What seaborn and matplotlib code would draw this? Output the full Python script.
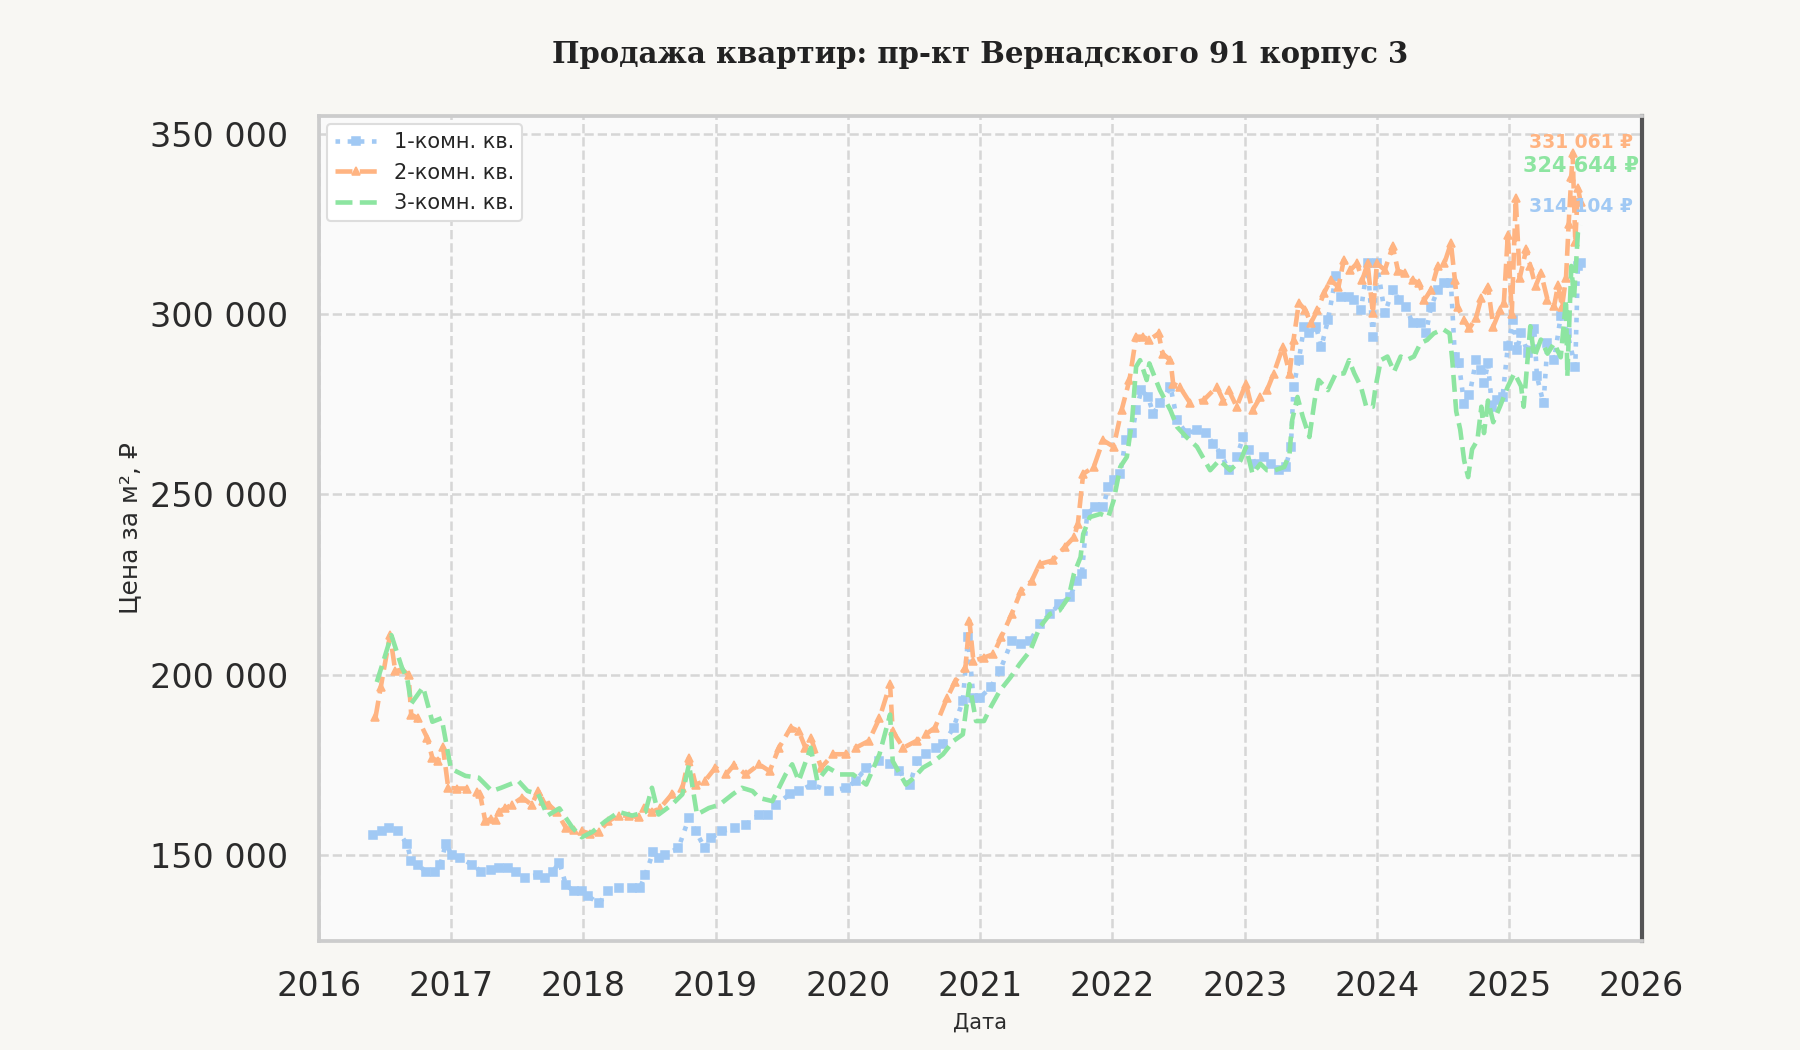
import pandas as pd
import matplotlib
matplotlib.use('Agg')
import matplotlib.pyplot as plt
import matplotlib.dates as mdates
from matplotlib.ticker import FuncFormatter, MultipleLocator
import seaborn as sns

# Даты как десятичные годы, цены за м² (тыс. руб.)
years_1k = [2016.41, 2016.48, 2016.53, 2016.60, 2016.67, 2016.70, 2016.75, 2016.81, 2016.88, 2016.92,
            2016.96, 2017.01, 2017.07, 2017.16, 2017.23, 2017.30, 2017.36, 2017.43, 2017.49, 2017.56,
            2017.66, 2017.71, 2017.77, 2017.82, 2017.87, 2017.93, 2017.99, 2018.04, 2018.12, 2018.19,
            2018.27, 2018.37, 2018.43, 2018.47, 2018.53, 2018.57, 2018.62, 2018.72, 2018.80, 2018.85,
            2018.92, 2018.97, 2019.05, 2019.15, 2019.23, 2019.33, 2019.40, 2019.46, 2019.56, 2019.63,
            2019.73, 2019.86, 2019.99, 2020.06, 2020.14, 2020.24, 2020.32, 2020.39, 2020.47, 2020.52,
            2020.59, 2020.67, 2020.72, 2020.80, 2020.87, 2020.91, 2020.95, 2021.00, 2021.08, 2021.15,
            2021.24, 2021.31, 2021.38, 2021.45, 2021.53, 2021.60, 2021.68, 2021.73, 2021.77, 2021.81,
            2021.87, 2021.93, 2021.97, 2022.01, 2022.06, 2022.10, 2022.15, 2022.18, 2022.22, 2022.27,
            2022.31, 2022.36, 2022.44, 2022.49, 2022.56, 2022.64, 2022.71, 2022.76, 2022.82, 2022.88,
            2022.94, 2022.99, 2023.03, 2023.08, 2023.15, 2023.20, 2023.26, 2023.31, 2023.35, 2023.37,
            2023.41, 2023.45, 2023.49, 2023.54, 2023.58, 2023.63, 2023.69, 2023.73, 2023.79, 2023.83,
            2023.88, 2023.93, 2023.97, 2024.00, 2024.06, 2024.12, 2024.17, 2024.22, 2024.27, 2024.33,
            2024.37, 2024.41, 2024.46, 2024.51, 2024.56, 2024.59, 2024.62, 2024.66, 2024.70, 2024.75,
            2024.79, 2024.81, 2024.84, 2024.87, 2024.91, 2024.95, 2024.99, 2025.03, 2025.06, 2025.09,
            2025.14, 2025.19, 2025.21, 2025.26, 2025.29, 2025.34, 2025.39, 2025.44, 2025.50, 2025.52,
            2025.54]
price_1k = [155.7, 156.7, 157.6, 156.7, 153.0, 148.3, 147.4, 145.5, 145.5, 147.4,
            153.0, 150.2, 149.3, 147.4, 145.5, 146.0, 146.4, 146.4, 145.5, 143.7,
            144.6, 143.7, 145.5, 148.0, 141.8, 140.0, 140.0, 138.6, 136.7, 140.0,
            141.0, 141.0, 141.0, 144.6, 151.0, 149.3, 150.2, 152.0, 160.4, 156.7,
            152.0, 154.8, 156.7, 157.6, 158.5, 161.3, 161.3, 164.0, 166.9, 167.8,
            169.6, 167.8, 168.7, 170.6, 174.3, 176.1, 175.2, 173.3, 169.6, 176.0,
            178.0, 179.8, 180.7, 185.4, 192.8, 210.4, 193.7, 193.7, 196.5, 201.1,
            209.4, 208.5, 209.4, 214.0, 216.9, 219.6, 221.5, 226.1, 228.0, 244.6,
            246.5, 246.5, 252.0, 253.9, 255.7, 265.0, 266.9, 273.3, 278.9, 277.0,
            272.4, 275.2, 279.8, 270.6, 266.9, 267.8, 266.9, 264.1, 261.3, 256.7,
            260.4, 265.9, 262.2, 258.5, 260.4, 258.5, 256.7, 257.6, 263.1, 279.8,
            287.2, 296.5, 294.6, 296.5, 290.9, 298.3, 310.4, 304.8, 304.8, 303.9,
            301.1, 314.0, 293.7, 314.0, 300.2, 306.7, 303.9, 302.0, 297.4, 297.4,
            294.6, 302.0, 306.7, 308.5, 308.5, 288.2, 286.3, 275.0, 277.5, 287.2,
            284.4, 280.8, 286.4, 274.3, 276.1, 277.0, 291.0, 298.4, 290.1, 294.7,
            289.2, 295.7, 282.7, 275.2, 291.9, 287.3, 299.4, 294.7, 285.4, 313.3,
            314.104]

years_2k = [2016.43, 2016.47, 2016.54, 2016.58, 2016.63, 2016.68, 2016.70, 2016.75, 2016.82, 2016.86,
            2016.90, 2016.94, 2016.98, 2017.05, 2017.12, 2017.20, 2017.22, 2017.26, 2017.30, 2017.34,
            2017.36, 2017.41, 2017.46, 2017.54, 2017.61, 2017.66, 2017.70, 2017.74, 2017.80, 2017.87,
            2017.93, 2017.99, 2018.05, 2018.12, 2018.19, 2018.27, 2018.35, 2018.42, 2018.46, 2018.52,
            2018.58, 2018.67, 2018.75, 2018.80, 2018.85, 2018.92, 2019.00, 2019.08, 2019.14, 2019.23,
            2019.33, 2019.41, 2019.48, 2019.57, 2019.63, 2019.68, 2019.72, 2019.80, 2019.89, 2019.99,
            2020.06, 2020.16, 2020.24, 2020.32, 2020.34, 2020.42, 2020.52, 2020.59, 2020.66, 2020.75,
            2020.81, 2020.89, 2020.92, 2020.95, 2021.03, 2021.10, 2021.16, 2021.24, 2021.31, 2021.39,
            2021.45, 2021.55, 2021.64, 2021.71, 2021.74, 2021.78, 2021.86, 2021.93, 2022.01, 2022.07,
            2022.13, 2022.18, 2022.23, 2022.28, 2022.35, 2022.38, 2022.44, 2022.46, 2022.51, 2022.59,
            2022.69, 2022.79, 2022.84, 2022.88, 2022.94, 2023.01, 2023.06, 2023.12, 2023.17, 2023.22,
            2023.29, 2023.34, 2023.37, 2023.41, 2023.46, 2023.50, 2023.55, 2023.60, 2023.65, 2023.71,
            2023.75, 2023.80, 2023.85, 2023.89, 2023.93, 2023.97, 2024.00, 2024.06, 2024.12, 2024.16,
            2024.21, 2024.27, 2024.32, 2024.36, 2024.41, 2024.46, 2024.51, 2024.56, 2024.59, 2024.61,
            2024.66, 2024.70, 2024.75, 2024.79, 2024.84, 2024.88, 2024.93, 2024.96, 2024.99, 2025.02,
            2025.05, 2025.08, 2025.13, 2025.16, 2025.20, 2025.24, 2025.29, 2025.34, 2025.37, 2025.40,
            2025.43, 2025.45, 2025.47, 2025.48, 2025.50, 2025.52, 2025.54]
price_2k = [188.2, 196.6, 211.0, 201.0, 201.5, 200.0, 189.0, 188.0, 182.6, 177.0,
            176.0, 180.0, 168.7, 168.5, 168.5, 167.5, 167.0, 159.5, 160.0, 159.7,
            162.0, 163.0, 164.0, 166.0, 164.0, 167.8, 165.0, 164.0, 162.0, 157.6,
            157.0, 156.7, 156.0, 156.5, 159.5, 161.0, 161.0, 160.5, 163.0, 162.0,
            163.0, 166.9, 168.7, 177.0, 169.6, 170.6, 174.3, 172.4, 175.0, 172.4,
            175.2, 173.3, 179.8, 185.4, 184.4, 179.8, 182.6, 174.3, 178.0, 178.0,
            179.8, 181.7, 188.0, 197.4, 184.4, 179.8, 181.7, 183.5, 185.4, 193.5,
            198.0, 202.0, 215.0, 203.9, 204.8, 205.7, 210.4, 216.9, 223.3, 226.0,
            230.7, 231.7, 235.4, 238.1, 241.9, 255.7, 257.6, 265.0, 263.2, 273.3,
            281.7, 293.7, 293.7, 292.8, 294.6, 289.0, 287.2, 280.7, 279.8, 275.2,
            276.1, 279.8, 276.0, 278.9, 274.3, 280.7, 273.3, 277.0, 278.9, 283.5,
            290.9, 283.5, 292.8, 303.0, 301.1, 297.4, 301.0, 305.7, 309.4, 307.5,
            315.0, 312.2, 314.0, 309.4, 314.0, 300.2, 314.0, 312.2, 318.7, 312.0,
            311.3, 309.4, 308.5, 303.9, 306.7, 313.2, 314.0, 319.6, 309.4, 302.0,
            298.3, 296.0, 299.0, 304.5, 307.6, 296.5, 301.0, 303.0, 322.0, 300.0,
            332.0, 310.0, 318.0, 313.3, 307.7, 311.4, 304.0, 302.2, 308.0, 302.0,
            310.0, 325.0, 338.0, 344.6, 320.0, 335.0, 331.061]

years_3k = [2016.44, 2016.50, 2016.55, 2016.63, 2016.67, 2016.70, 2016.79, 2016.86, 2016.93, 2016.97,
            2017.00, 2017.11, 2017.21, 2017.31, 2017.38, 2017.51, 2017.58, 2017.66, 2017.73, 2017.82,
            2017.92, 2017.99, 2018.07, 2018.17, 2018.27, 2018.37, 2018.47, 2018.52, 2018.57, 2018.67,
            2018.75, 2018.80, 2018.86, 2018.95, 2019.03, 2019.13, 2019.20, 2019.28, 2019.33, 2019.43,
            2019.53, 2019.58, 2019.63, 2019.72, 2019.77, 2019.85, 2019.94, 2020.04, 2020.14, 2020.24,
            2020.32, 2020.34, 2020.44, 2020.50, 2020.57, 2020.65, 2020.72, 2020.80, 2020.87, 2020.92,
            2020.97, 2021.03, 2021.08, 2021.15, 2021.23, 2021.30, 2021.38, 2021.45, 2021.53, 2021.60,
            2021.67, 2021.71, 2021.76, 2021.78, 2021.83, 2021.91, 2021.97, 2022.01, 2022.06, 2022.11,
            2022.15, 2022.18, 2022.21, 2022.26, 2022.28, 2022.36, 2022.44, 2022.49, 2022.56, 2022.64,
            2022.74, 2022.81, 2022.89, 2022.97, 2023.01, 2023.06, 2023.12, 2023.17, 2023.23, 2023.30,
            2023.34, 2023.36, 2023.40, 2023.44, 2023.49, 2023.53, 2023.56, 2023.63, 2023.69, 2023.75,
            2023.79, 2023.83, 2023.88, 2023.92, 2023.97, 2023.99, 2024.03, 2024.08, 2024.13, 2024.18,
            2024.23, 2024.28, 2024.33, 2024.38, 2024.43, 2024.50, 2024.55, 2024.57, 2024.60, 2024.63,
            2024.66, 2024.69, 2024.72, 2024.76, 2024.79, 2024.81, 2024.84, 2024.88, 2024.93, 2024.99,
            2025.04, 2025.09, 2025.11, 2025.16, 2025.19, 2025.24, 2025.29, 2025.34, 2025.39, 2025.43,
            2025.44, 2025.47, 2025.49, 2025.52, 2025.54]
price_3k = [198.0, 205.0, 211.0, 202.0, 199.0, 192.0, 196.6, 187.0, 188.0, 180.0,
            174.0, 172.0, 171.5, 167.8, 168.7, 170.6, 167.8, 167.0, 161.0, 163.0,
            157.6, 155.0, 156.5, 159.5, 162.0, 161.0, 162.0, 168.7, 161.3, 164.0,
            166.9, 175.2, 161.3, 163.1, 164.0, 166.9, 168.7, 167.8, 165.9, 165.0,
            172.4, 175.2, 170.6, 179.8, 170.6, 174.3, 172.4, 172.4, 169.6, 178.0,
            189.0, 176.1, 169.6, 171.5, 174.3, 176.0, 178.0, 181.7, 183.5, 197.4,
            187.2, 187.2, 191.0, 195.6, 199.3, 203.0, 206.7, 213.1, 216.9, 217.8,
            221.5, 228.0, 232.6, 239.0, 243.7, 244.6, 243.7, 248.3, 257.6, 260.4,
            270.6, 285.4, 287.2, 281.7, 286.3, 278.9, 273.3, 268.7, 265.9, 263.2,
            256.7, 259.5, 256.7, 259.4, 263.1, 255.7, 258.5, 256.7, 256.7, 257.6,
            261.3, 270.6, 277.0, 271.5, 265.9, 276.1, 281.7, 278.9, 283.5, 283.5,
            287.2, 283.5, 279.8, 274.3, 274.3, 279.8, 287.2, 288.2, 284.0, 288.2,
            287.3, 288.2, 291.9, 292.8, 294.6, 295.8, 294.6, 287.2, 273.0, 268.0,
            259.4, 254.8, 262.5, 265.0, 274.3, 267.0, 276.0, 270.0, 274.3, 279.9,
            283.6, 280.0, 274.3, 296.6, 288.0, 292.9, 289.0, 291.9, 288.0, 304.0,
            282.7, 313.3, 304.0, 322.6, 324.644]

labels = ['1-комн. кв.', '2-комн. кв.', '3-комн. кв.']
title = 'Продажа квартир: пр-кт Вернадского 91 корпус 3'


def to_dates(years):
    start = pd.Timestamp('2016-01-01')
    return [start + pd.Timedelta(days=(y - 2016) * 365.25) for y in years]


sns.set_theme(style='whitegrid', palette='pastel')
plt.rcParams['font.family'] = ['DejaVu Sans']
plt.rcParams['grid.linestyle'] = '--'
plt.rcParams['grid.linewidth'] = 1.2
plt.rcParams['grid.color'] = '#d6d6d6'
colors = sns.color_palette('pastel')

fig, ax = plt.subplots(figsize=(12, 7), dpi=150)
fig.patch.set_facecolor('#f8f7f3')
ax.set_facecolor('#fafafa')
fig.subplots_adjust(left=0.177, right=0.912, top=0.890, bottom=0.104)

series = [
    (years_1k, price_1k, colors[0], ':', 's', 4.0),
    (years_2k, price_2k, colors[1], '--', '^', 4.0),
    (years_3k, price_3k, colors[2], '--', None, 0),
]
text_sizes = [9, 9, 10]

for (yrs, vals, col, ls, mk, ms), lab, fs in zip(series, labels, text_sizes):
    dates = to_dates(yrs)
    prices = [v * 1000 for v in vals]
    sns.lineplot(x=dates, y=prices, ax=ax, color=col, linestyle=ls, marker=mk,
                 markersize=ms, markeredgecolor=col, linewidth=2.2, label=lab)
    last = prices[-1]
    ax.text(dates[-1], last * 1.05, f'{last:,.0f} ₽'.replace(',', ' '),
            color=col, fontsize=fs, fontweight='bold', ha='center', va='center')

ax.set_xlim(pd.Timestamp('2016-01-01'), pd.Timestamp('2026-01-01'))
ax.xaxis.set_major_locator(mdates.YearLocator())
ax.xaxis.set_major_formatter(mdates.DateFormatter('%Y'))
ax.yaxis.set_major_locator(MultipleLocator(50000))
ax.yaxis.set_major_formatter(FuncFormatter(lambda v, p: f'{v:,.0f}'.replace(',', ' ')))
ax.tick_params(axis='both', labelsize=16, colors='#2b2b2b')
ax.tick_params(axis='x', pad=8)
ax.tick_params(axis='y', pad=8.5)

ax.set_title(title, fontsize=14, fontweight='bold', family='DejaVu Serif',
             color='#222222', pad=25)
ax.set_xlabel('Дата', fontsize=10, color='#2b2b2b', labelpad=4.5)
ax.set_ylabel('Цена за м², ₽', fontsize=12, color='#2b2b2b', labelpad=4)

for side in ['left', 'bottom', 'top']:
    ax.spines[side].set_color('#cccccc')
    ax.spines[side].set_linewidth(1.8)
ax.spines['right'].set_color('#555555')
ax.spines['right'].set_linewidth(2)

leg = ax.legend(loc='upper left', fontsize=10, frameon=True, facecolor='white',
                edgecolor='#dddddd', framealpha=1, borderaxespad=0.4)

plt.savefig('out.png', dpi=150, facecolor=fig.get_facecolor())
